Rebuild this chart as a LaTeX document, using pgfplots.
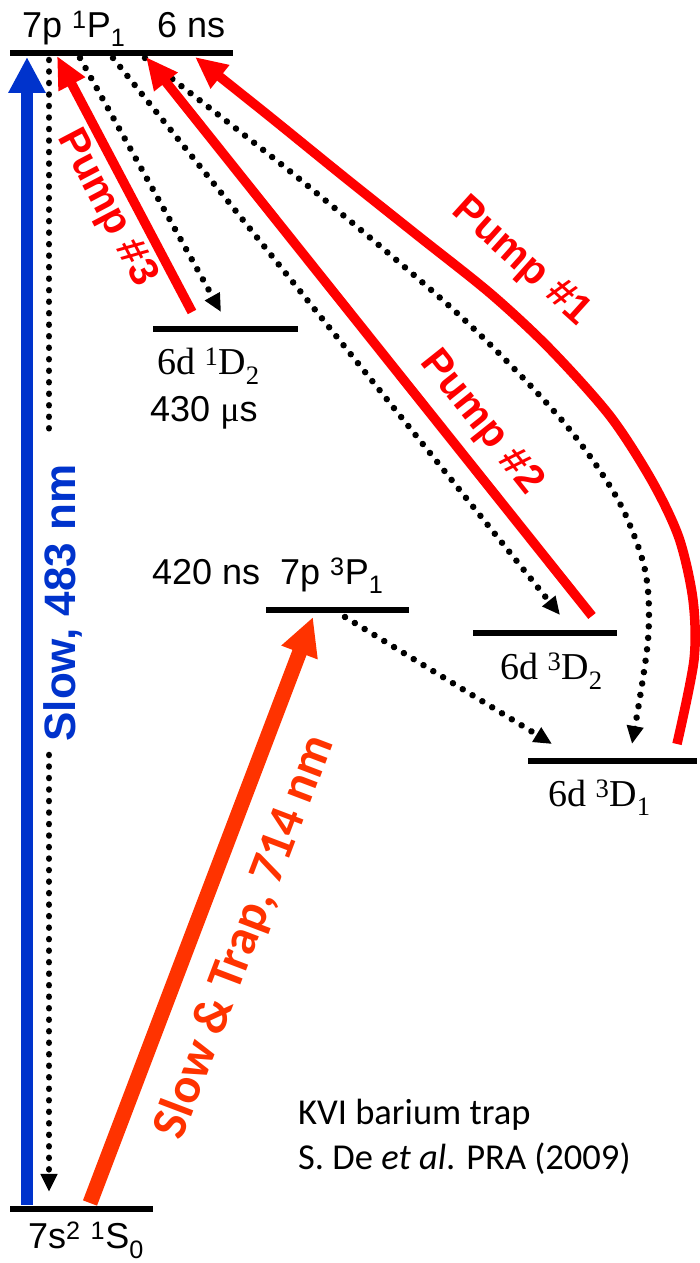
\documentclass[border=0pt]{standalone}
\usepackage{fontspec}
\setmainfont{Liberation Sans}
\newfontfamily\timesf{Liberation Serif}
\newfontfamily\calibri{Carlito}
\usepackage{pgfplots}
\pgfplotsset{compat=1.18}
\usetikzlibrary{arrows.meta}
\definecolor{pumpred}{RGB}{255,0,0}
\definecolor{trapred}{RGB}{255,51,0}
\definecolor{slowblue}{RGB}{0,51,204}
\tikzset{dots/.style={black, line width=6.5pt, line cap=round, dash pattern=on 0.01pt off 11.5pt},
  dtip/.style={-{Triangle[length=18pt,width=16pt]}}}
\begin{document}
\begin{tikzpicture}
\begin{axis}[width=700pt, height=1263pt, scale only axis,
  xmin=0, xmax=700, ymin=-1263, ymax=0, hide axis, clip=false]
% energy levels
\addplot[black, line width=5.5pt] coordinates {(10,-53) (233,-53)};
\addplot[black, line width=5.5pt] coordinates {(153,-329) (298,-329)};
\addplot[black, line width=5.5pt] coordinates {(266,-610) (409,-610)};
\addplot[black, line width=5.5pt] coordinates {(473,-633) (617,-633)};
\addplot[black, line width=5.5pt] coordinates {(528,-761) (697,-761)};
\addplot[black, line width=5.5pt] coordinates {(10,-1209) (153,-1209)};
% blue slow arrow
\addplot[slowblue, line width=12pt, -{Triangle[length=36pt,width=35pt]}] coordinates {(27,-1205) (27,-57)};
% orange slow & trap arrow
\addplot[trapred, line width=15pt, -{Triangle[length=38pt,width=36pt]}] coordinates {(90,-1203) (313,-617)};
% dotted decays
\addplot[dots] coordinates {(49,-60) (49,-433)};
\addplot[dots, dtip] coordinates {(49,-755) (49,-1192)};
\addplot[dots, dtip] coordinates {(80,-58) (221,-312)};
\addplot[dots, dtip] coordinates {(113,-58) (560,-615)};
\addplot[dots, dtip, smooth] coordinates {(145,-58) (297,-177) (457,-313) (560,-418) (617,-498) (645,-570) (648,-640) (632,-744)};
\addplot[dots, dtip] coordinates {(345,-617) (552,-744)};
% pump arrows
\addplot[pumpred, line width=9.5pt, -{Triangle[length=32pt,width=28pt]}] coordinates {(192,-312) (57,-56)};
\addplot[pumpred, line width=9.5pt, -{Triangle[length=32pt,width=28pt]}] coordinates {(592,-616) (146,-57)};
\addplot[pumpred, line width=9.5pt, smooth, -{Triangle[length=32pt,width=28pt]}] coordinates {(677,-744) (694,-660) (693,-600) (679,-538) (652,-481) (610,-416) (550,-349) (491,-294) (417,-235) (343,-176) (269,-116) (195,-57)};
% labels
\node[anchor=base west, inner sep=0pt, font=\fontsize{36}{40}\selectfont] at (axis cs:22,-38) {7p \textsuperscript{1}P\textsubscript{1}};
\node[anchor=base west, inner sep=0pt, font=\fontsize{36}{40}\selectfont] at (axis cs:157,-38) {6 ns};
\node[anchor=base west, inner sep=0pt, font=\timesf\fontsize{38}{40}\selectfont] at (axis cs:157,-375) {6d \textsuperscript{1}D\textsubscript{2}};
\node[anchor=base west, inner sep=0pt, font=\fontsize{36}{40}\selectfont] at (axis cs:150,-422) {430 {\timesf μ}s};
\node[anchor=base west, inner sep=0pt, font=\fontsize{36}{40}\selectfont] at (axis cs:152,-585) {420 ns};
\node[anchor=base west, inner sep=0pt, font=\fontsize{36}{40}\selectfont] at (axis cs:280,-585) {7p \textsuperscript{3}P\textsubscript{1}};
\node[anchor=base west, inner sep=0pt, font=\timesf\fontsize{38}{40}\selectfont] at (axis cs:500,-680) {6d \textsuperscript{3}D\textsubscript{2}};
\node[anchor=base west, inner sep=0pt, font=\timesf\fontsize{38}{40}\selectfont] at (axis cs:548,-807) {6d \textsuperscript{3}D\textsubscript{1}};
\node[anchor=base west, inner sep=0pt, font=\fontsize{36}{40}\selectfont] at (axis cs:28,-1249) {7s\textsuperscript{2} \textsuperscript{1}S\textsubscript{0}};
\node[anchor=base west, inner sep=0pt, font=\calibri\fontsize{36.5}{40}\selectfont] at (axis cs:298,-1125) {KVI barium trap};
\node[anchor=base west, inner sep=0pt, font=\calibri\fontsize{36.5}{40}\selectfont] at (axis cs:298,-1170) {S. De \textit{et al}. PRA (2009)};
\node[rotate=-62.3, text=pumpred, font=\bfseries\fontsize{41}{44}\selectfont] at (axis cs:106,-208) {Pump \#3};
\node[rotate=-51.5, text=pumpred, font=\bfseries\fontsize{41}{44}\selectfont] at (axis cs:481,-423) {Pump \#2};
\node[rotate=-42, text=pumpred, font=\bfseries\fontsize{41}{44}\selectfont] at (axis cs:521,-262) {Pump \#1};
\node[rotate=90, text=slowblue, font=\bfseries\fontsize{44}{46}\selectfont] at (axis cs:63,-603) {Slow, 483 nm};
\node[rotate=69.2, text=trapred, font=\calibri\bfseries\fontsize{50}{52}\selectfont] at (axis cs:245,-937) {Slow \& Trap, 714 nm};
\path (axis cs:0,0) coordinate (tr) (axis cs:700,-1263) coordinate (bl);
\end{axis}
\pgfresetboundingbox
\useasboundingbox (bl |- tr) rectangle (tr |- bl);
\end{tikzpicture}
\end{document}
